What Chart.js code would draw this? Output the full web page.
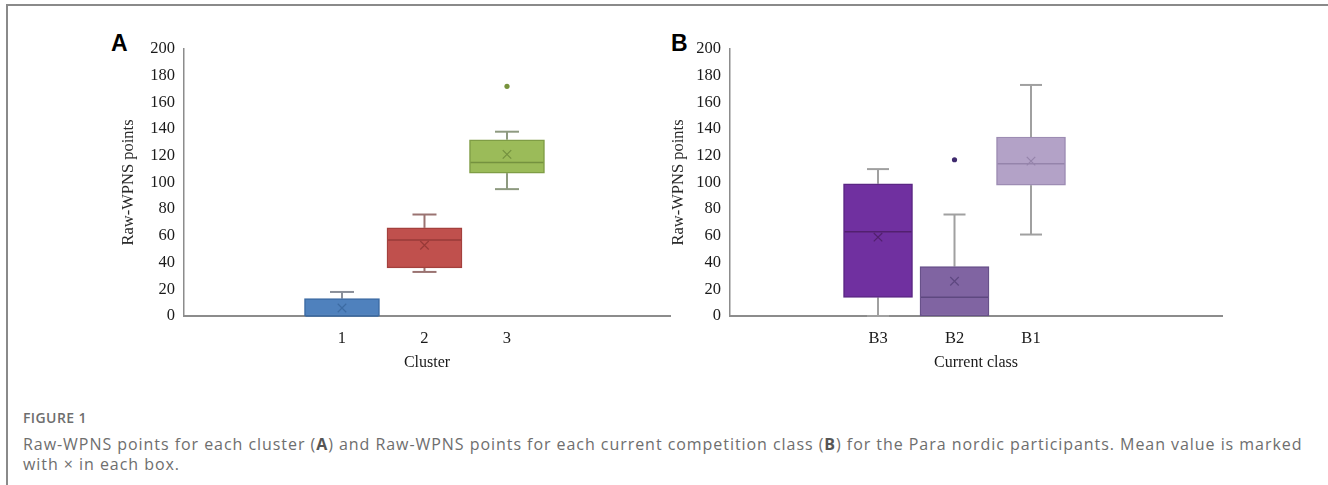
<!DOCTYPE html>
<html>
<head>
<meta charset="utf-8">
<script src="https://cdn.jsdelivr.net/npm/chart.js@4/dist/chart.umd.min.js"></script>
<style>
  html, body { margin: 0; padding: 0; background: #fff; }
  body { width: 1328px; height: 485px; position: relative; overflow: hidden; }
  #frame { position: absolute; left: 6px; top: 4px; right: 0; bottom: 0;
           border-top: 2px solid #8a8a8a; border-left: 2px solid #8a8a8a; }
  canvas { position: absolute; }
  #chartA { left: 100px; top: 30px; }
  #chartB { left: 660px; top: 30px; }
  .panel { position: absolute; font: bold 23px "Liberation Sans", Arial, sans-serif; color: #000; }
  #figno { position: absolute; left: 23px; top: 408px; font: 600 14px "Open Sans", sans-serif;
           color: #6e6e6e; letter-spacing: 0.4px; }
  #caption { position: absolute; left: 23px; top: 434px; font: 16px "Open Sans", sans-serif;
             color: #6e6e6e; line-height: 20px; white-space: nowrap; letter-spacing: 0.95px; }
  #caption b { color: #555; }
</style>
</head>
<body>
<div id="frame"></div>
<div class="panel" style="left:111px; top:30px;">A</div>
<div class="panel" style="left:671px; top:30px;">B</div>
<canvas id="chartA" width="580" height="345"></canvas>
<canvas id="chartB" width="580" height="345"></canvas>
<div id="figno">FIGURE 1</div>
<div id="caption">Raw-WPNS points for each cluster (<b>A</b>) and Raw-WPNS points for each current competition class (<b>B</b>) for the Para nordic participants. Mean value is marked<br>with × in each box.</div>

<script>
"use strict"

// *** DATI *** //

// panel A - cluster
const clusters = ["1", "2", "3"];
const minA = [0, 33, 95];
const q1A = [0, 36, 107];
const medA = [0, 57, 115];
const q3A = [13, 66, 132];
const maxA = [18, 76, 138];
const meanA = [6, 53, 121];
const outA = [[], [], [172]];

// panel B - current class
const classes = ["B3", "B2", "B1"];
const minB = [0, 0, 61];
const q1B = [14, 0, 98];
const medB = [63, 14, 114];
const q3B = [99, 37, 134];
const maxB = [110, 76, 173];
const meanB = [59, 26, 116];
const outB = [[], [117], []];

const yTicks = [0, 20, 40, 60, 80, 100, 120, 140, 160, 180, 200];

// *** STILI *** //

const styleA = {
    fill: ["#4F81BD", "#C0504D", "#9BBB59"],
    edge: ["#3d6ba3", "#a4403d", "#7f9d45"],
    median: ["#3d6ba3", "#983a38", "#74913f"],
    whisker: ["#8a8f99", "#9a7371", "#8e9a80"],
    outlier: "#77933C",
    box: 75, cap: 12,
    xMin: -0.915, xMax: 4.976,
    yWidth: 84, padRight: 10, titlePad: 19
};
const styleB = {
    fill: ["#7030A0", "#8064A2", "#B3A2C7"],
    edge: ["#5a2683", "#68518a", "#9d8cb3"],
    median: ["#52206f", "#5e4880", "#9584ab"],
    whisker: ["#a0a0a0", "#a0a0a0", "#a0a0a0"],
    outlier: "#3f2a6e",
    box: 69, cap: 11,
    xMin: -0.935, xMax: 5.497,
    yWidth: 70, padRight: 18, titlePad: 9
};

// *** FUNZIONI *** //

function boxDatasets (mins, q1s, meds, q3s, maxs, means, outs, st) {
    let sets = [];
    let xs = mins.map((v, i) => i + 1);

    // baffi
    xs.forEach(function (x, i) {
        if (maxs[i] > q3s[i])
            sets.push(segment([{x: x, y: q3s[i]}, {x: x, y: maxs[i]}], st.whisker[i]));
        if (mins[i] < q1s[i])
            sets.push(segment([{x: x, y: mins[i]}, {x: x, y: q1s[i]}], st.whisker[i]));
    });

    // scatole
    sets.push({
        type: "bar",
        data: xs.map((x, i) => ({x: x, y: [q1s[i], q3s[i]]})),
        backgroundColor: st.fill,
        borderColor: st.edge,
        borderWidth: 1.5,
        borderSkipped: false,
        barThickness: st.box,
        grouped: false,
        order: 2,
        clip: false
    });

    // cappucci
    let caps = [], capColors = [];
    xs.forEach(function (x, i) {
        if (maxs[i] > q3s[i]) { caps.push({x: x, y: maxs[i]}); capColors.push(st.whisker[i]); }
        if (mins[i] < q1s[i]) { caps.push({x: x, y: mins[i]}); capColors.push(st.whisker[i]); }
    });
    sets.push(points(caps, "line", st.cap, capColors, 2));

    // mediana
    sets.push(points(xs.map((x, i) => ({x: x, y: meds[i]})), "line", st.box / 2 - 1, st.median, 1.5));

    // media
    sets.push(points(xs.map((x, i) => ({x: x, y: means[i]})), "crossRot", 6, st.median, 1.2));

    // valori anomali
    let extra = [];
    xs.forEach((x, i) => outs[i].forEach(v => extra.push({x: x, y: v})));
    sets.push({
        type: "line", showLine: false, data: extra,
        pointStyle: "circle", pointRadius: 2.6,
        pointBackgroundColor: st.outlier, pointBorderColor: st.outlier, pointBorderWidth: 0,
        order: 1, clip: false
    });
    return sets;
}

function segment (data, color) {
    return {
        type: "line", data: data, borderColor: color, borderWidth: 2,
        pointRadius: 0, order: 3, clip: false
    };
}

function points (data, style, radius, colors, width) {
    return {
        type: "line", showLine: false, data: data,
        pointStyle: style, pointRadius: radius, pointRotation: 0,
        pointBorderColor: colors, pointBackgroundColor: colors, pointBorderWidth: width,
        order: 1, clip: false
    };
}

function makeChart (canvas, labels, sets, st, xTitle) {
    return new Chart(canvas, {
        type: "bar",
        data: { datasets: sets },
        options: {
            responsive: false,
            animation: false,
            devicePixelRatio: 1,
            layout: { autoPadding: false, padding: { top: 17, right: st.padRight, left: 0, bottom: 0 } },
            plugins: { legend: { display: false }, tooltip: { enabled: false } },
            scales: {
                x: {
                    type: "linear",
                    offset: false,
                    min: st.xMin, max: st.xMax,
                    grid: { display: false, drawTicks: false },
                    border: { color: "#8c8c8c", width: 2 },
                    afterBuildTicks: axis => { axis.ticks = labels.map((l, i) => ({value: i + 1})); },
                    afterFit: axis => { axis.height = 59; },
                    ticks: {
                        padding: 13,
                        color: "#1a1a1a",
                        font: { family: "Liberation Serif", size: 16.5 },
                        callback: v => labels[v - 1] || ""
                    },
                    title: {
                        display: true, text: xTitle, color: "#1a1a1a",
                        font: { family: "Liberation Serif", size: 16 },
                        padding: { top: 0, bottom: 3 }
                    }
                },
                y: {
                    min: 0, max: 200,
                    grid: { display: false, drawTicks: false },
                    border: { color: "#8c8c8c", width: 1.5 },
                    afterBuildTicks: axis => { axis.ticks = yTicks.map(v => ({value: v})); },
                    afterFit: axis => { axis.width = st.yWidth; },
                    ticks: {
                        padding: 9,
                        color: "#1a1a1a",
                        font: { family: "Liberation Serif", size: 16.5 }
                    },
                    title: {
                        display: true, text: "Raw-WPNS points", color: "#2a2a2a",
                        font: { family: "Liberation Serif", size: 16.5 },
                        padding: { top: st.titlePad, bottom: 0 }
                    }
                }
            }
        }
    });
}

makeChart(document.getElementById("chartA"), clusters,
    boxDatasets(minA, q1A, medA, q3A, maxA, meanA, outA, styleA), styleA, "Cluster");
makeChart(document.getElementById("chartB"), classes,
    boxDatasets(minB, q1B, medB, q3B, maxB, meanB, outB, styleB), styleB, "Current class");
</script>
</body>
</html>
